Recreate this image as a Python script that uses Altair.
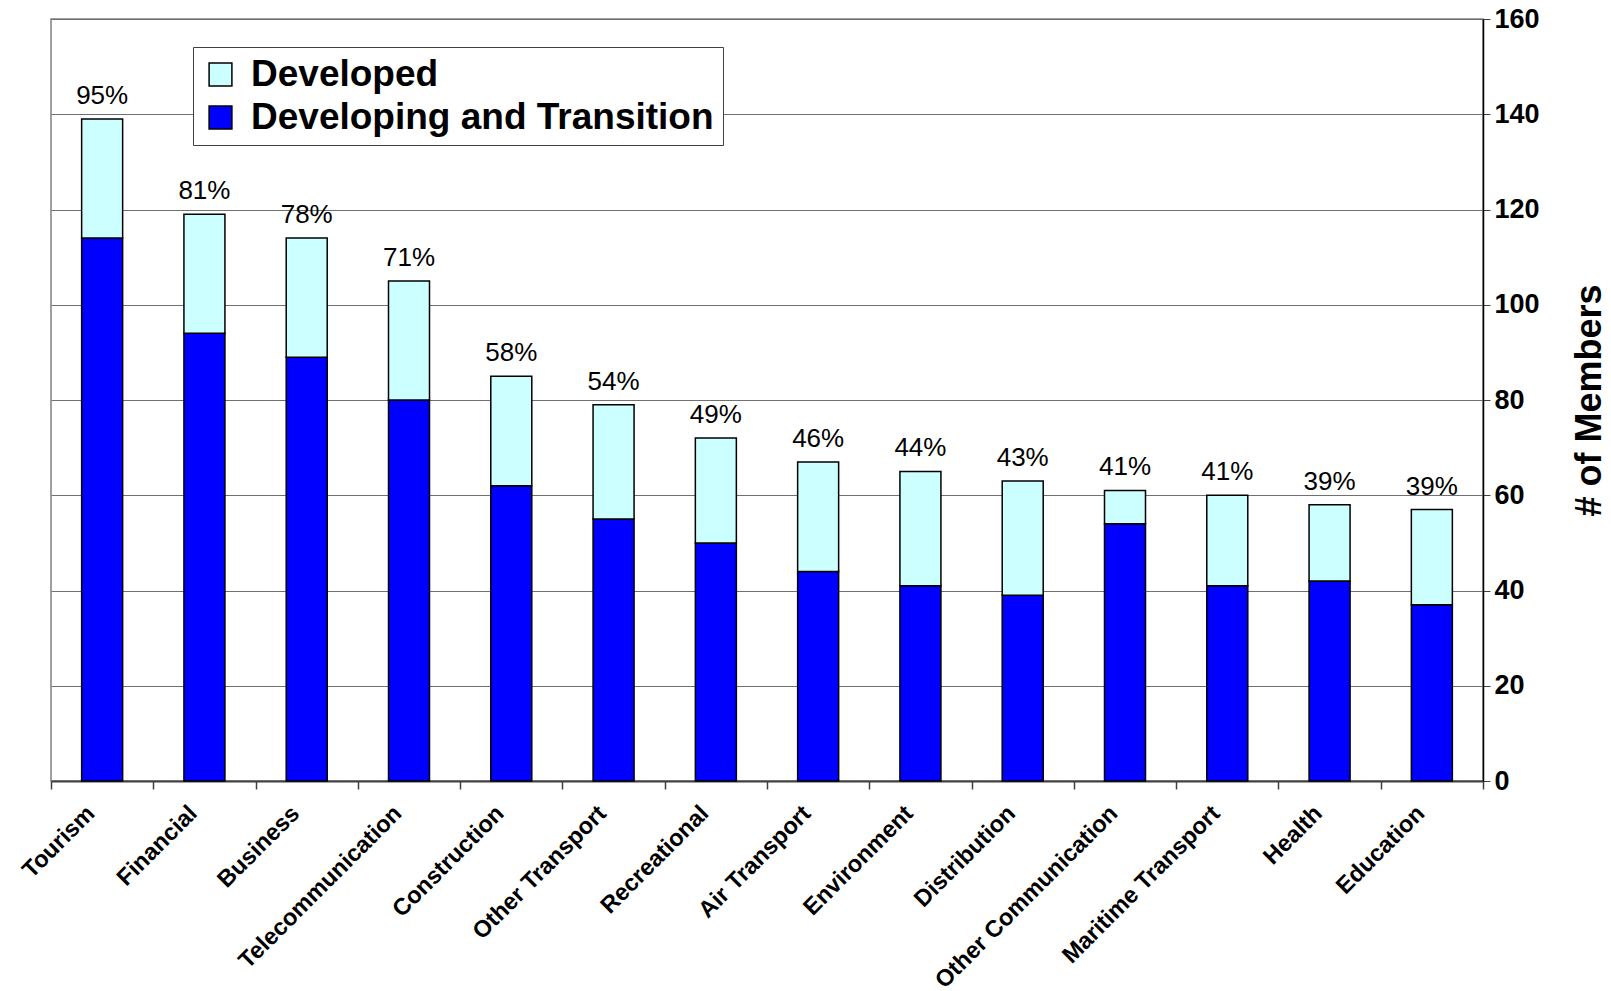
import altair as alt
import pandas as pd

sectors = ["Tourism", "Financial", "Business", "Telecommunication", "Construction",
           "Other Transport", "Recreational", "Air Transport", "Environment",
           "Distribution", "Other Communication", "Maritime Transport", "Health", "Education"]
developing = [114, 94, 89, 80, 62, 55, 50, 44, 41, 39, 54, 41, 42, 37]
developed = [25, 25, 25, 25, 23, 24, 22, 23, 24, 24, 7, 19, 16, 20]
pct = [95, 81, 78, 71, 58, 54, 49, 46, 44, 43, 41, 41, 39, 39]
groups = ["Developed", "Developing and Transition"]
colors = ["#CCFFFF", "#0000FF"]
y_ticks = [0, 20, 40, 60, 80, 100, 120, 140, 160]

FONT = "Liberation Sans"

rows = []
for s, dv, dd in zip(sectors, developing, developed):
    rows.append({"sector": s, "group": groups[1], "start": 0, "end": dv})
    rows.append({"sector": s, "group": groups[0], "start": dv, "end": dv + dd})
df = pd.DataFrame(rows)

lab = pd.DataFrame({
    "sector": sectors,
    "end": [a + b for a, b in zip(developing, developed)],
    "label": [f"{p}%" for p in pct],
})

x_enc = alt.X("sector:N", sort=sectors, title=None,
              scale=alt.Scale(paddingInner=0, paddingOuter=0),
              axis=alt.Axis(labelAngle=-45, labelFont=FONT, labelFontSize=23.5,
                            labelFontWeight="bold", labelColor="black",
                            labelPadding=12, labelOffset=-20,
                            tickBand="extent", tickSize=8,
                            tickColor="#404040", tickWidth=1.5,
                            domainColor="#404040", domainWidth=2, grid=False,
                            labelLimit=400))
y_enc = alt.Y("end:Q", title="# of Members",
              scale=alt.Scale(domain=[0, 160], nice=False),
              axis=alt.Axis(orient="right", values=y_ticks, labelFont=FONT,
                            labelFontSize=27, labelFontWeight="bold",
                            labelColor="black", labelPadding=4, tickSize=7,
                            tickColor="#404040", domainColor="black",
                            domainWidth=1.5, grid=True, gridColor="#707070",
                            gridWidth=1.2, titleFont=FONT, titleFontSize=36,
                            titleFontWeight="bold", titleColor="black",
                            titleAngle=270, titleX=106, titleY=381,
                            titleAlign="center", titleBaseline="middle"))

bars = alt.Chart(df).mark_bar(size=41, stroke="black", strokeWidth=1.5).encode(
    x=x_enc,
    y=y_enc,
    y2="start:Q",
    color=alt.Color("group:N",
                    scale=alt.Scale(domain=groups, range=colors),
                    legend=alt.Legend(orient="none", legendX=142, legendY=28,
                                      title=None, labelFont=FONT,
                                      labelFontSize=37, labelFontWeight="bold",
                                      labelColor="black", labelLimit=1000,
                                      symbolType="square", symbolSize=520,
                                      symbolStrokeColor="black",
                                      symbolStrokeWidth=1.5,
                                      strokeColor="#404040", fillColor="white",
                                      padding=9, rowPadding=5, labelOffset=12)),
)

texts = alt.Chart(lab).mark_text(baseline="bottom", dy=-10, fontSize=26,
                                 font=FONT, color="black").encode(
    x=x_enc,
    y=y_enc,
    text="label:N",
)

chart = alt.layer(bars, texts).properties(
    width=1432, height=762, autosize="none",
    padding={"left": 51, "top": 19, "right": 128, "bottom": 210},
).configure_view(stroke="#808080", strokeWidth=1.5)

chart.save("out.html", embed_options={"renderer": "svg", "actions": False})
